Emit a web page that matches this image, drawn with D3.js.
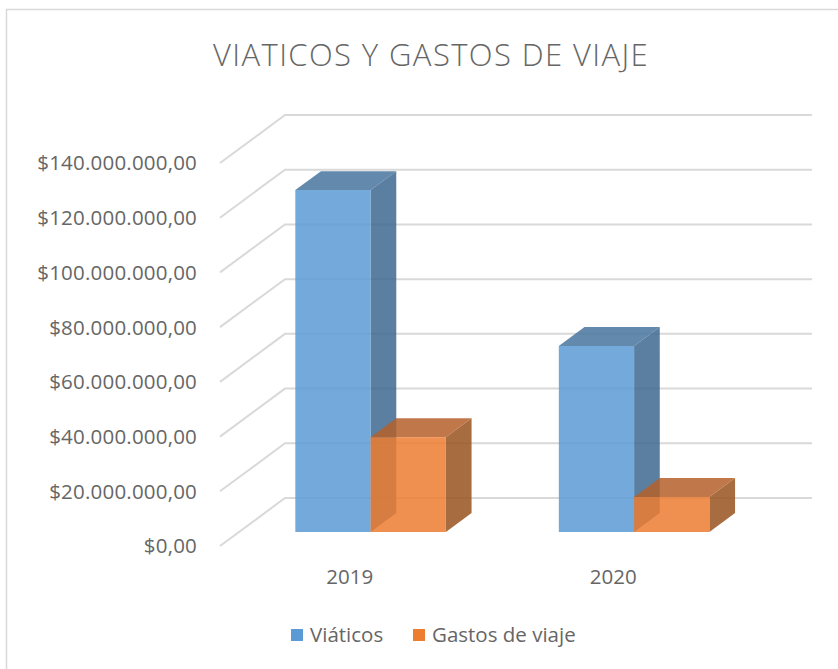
<!DOCTYPE html>
<html>
<head>
<meta charset="utf-8">
<script src="https://cdn.jsdelivr.net/npm/d3@7"></script>
<style>
  body { margin: 0; background: #fff; }
  text { font-family: "Open Sans", Lato, sans-serif; fill: #666666; }
</style>
</head>
<body>
<svg id="chart" width="838" height="669"></svg>
<script>
// data
const years = ["2019", "2020"];
const seriesNames = ["Viáticos", "Gastos de viaje"];
const viaticos = [125000000, 68000000];
const gastos = [34700000, 12800000];
const yTicks = [0, 20e6, 40e6, 60e6, 80e6, 100e6, 120e6, 140e6];

const colors = {
  "Viáticos": { front: "#5B9BD5", top: "#48749F", side: "#3E698F" },
  "Gastos de viaje": { front: "#ED7D31", top: "#B5602A", side: "#98521F" }
};

const svg = d3.select("#chart");

// outer frame (right/bottom edges fall outside the picture)
svg.append("rect")
  .attr("x", 6.5).attr("y", 9.5)
  .attr("width", 860).attr("height", 700)
  .attr("fill", "none").attr("stroke", "#D9D9D9").attr("stroke-width", 1.5);

// title
svg.append("text")
  .attr("x", 431).attr("y", 66)
  .attr("text-anchor", "middle")
  .style("font-size", "31px")
  .style("font-weight", 300)
  .style("letter-spacing", "1.4px")
  .text("VIATICOS Y GASTOS DE VIAJE");

// oblique projection: depth vector of the floor
const depthX = 65, depthY = -48;
const barFrontF = 0.29, barBackF = 0.685;

const y = d3.scaleLinear().domain([0, 140e6]).range([546, 163]);
const x0 = d3.scaleBand().domain(years).range([220, 747]).paddingInner(0).paddingOuter(0);
const x1 = d3.scaleBand().domain(seriesNames).range([0, x0.bandwidth()]).paddingInner(0).paddingOuter(0.75);

const proj = (px, v, f) => [px + f * depthX, y(v) + f * depthY];

// gridlines: floor/left wall diagonal then back wall
const grid = svg.append("g");
yTicks.forEach(v => {
  const a = proj(220, v, 0), b = proj(220, v, 1), c = proj(747, v, 1);
  grid.append("polyline")
    .attr("points", [a, b, c].map(p => p.join(",")).join(" "))
    .attr("fill", "none").attr("stroke", "#D9D9D9").attr("stroke-width", 2);
});

// y axis labels
svg.append("g").selectAll("text")
  .data(yTicks).enter().append("text")
  .attr("x", 197).attr("y", d => y(d) + 2)
  .attr("text-anchor", "end")
  .attr("dominant-baseline", "middle")
  .style("font-size", "20.5px")
  .style("letter-spacing", "0.2px")
  .text(d => "$" + d3.format(",.2f")(d).replace(/,/g, "#").replace(".", ",").replace(/#/g, "."));

// bars
const rows = [];
years.forEach((yr, i) => {
  rows.push({ year: yr, name: seriesNames[0], value: viaticos[i] });
  rows.push({ year: yr, name: seriesNames[1], value: gastos[i] });
});

const pts = arr => arr.map(p => p.join(",")).join(" ");
const bars = svg.append("g");
rows.forEach(d => {
  const xl = x0(d.year) + x1(d.name);
  const xr = xl + x1.bandwidth();
  const c = colors[d.name];
  const g = bars.append("g").attr("fill-opacity", 0.85);
  // right side face
  g.append("polygon")
    .attr("points", pts([proj(xr, 0, barFrontF), proj(xr, 0, barBackF), proj(xr, d.value, barBackF), proj(xr, d.value, barFrontF)]))
    .attr("fill", c.side);
  // top face
  g.append("polygon")
    .attr("points", pts([proj(xl, d.value, barFrontF), proj(xl, d.value, barBackF), proj(xr, d.value, barBackF), proj(xr, d.value, barFrontF)]))
    .attr("fill", c.top);
  // front face
  g.append("polygon")
    .attr("points", pts([proj(xl, 0, barFrontF), proj(xr, 0, barFrontF), proj(xr, d.value, barFrontF), proj(xl, d.value, barFrontF)]))
    .attr("fill", c.front);
});

// category labels
svg.append("g").selectAll("text")
  .data(years).enter().append("text")
  .attr("x", d => x0(d) + x0.bandwidth() / 2 - 2)
  .attr("y", 579)
  .attr("text-anchor", "middle")
  .attr("dominant-baseline", "middle")
  .style("font-size", "20.5px")
  .text(d => d);

// legend
const legend = svg.append("g");
const legendX = [291, 413];
seriesNames.forEach((n, i) => {
  legend.append("rect")
    .attr("x", legendX[i]).attr("y", 629)
    .attr("width", 12).attr("height", 12)
    .attr("fill", colors[n].front);
  legend.append("text")
    .attr("x", legendX[i] + 19).attr("y", 637)
    .attr("dominant-baseline", "middle")
    .style("font-size", "20.5px")
    .text(n);
});
</script>
</body>
</html>
